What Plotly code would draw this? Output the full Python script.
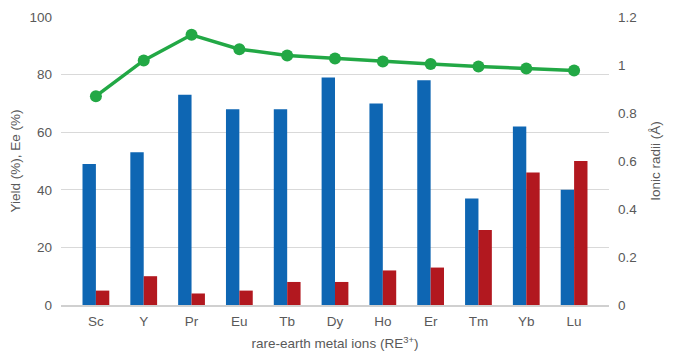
import plotly.graph_objects as go

categories = ["Sc", "Y", "Pr", "Eu", "Tb", "Dy", "Ho", "Er", "Tm", "Yb", "Lu"]
yield_vals = [49, 53, 73, 68, 68, 79, 70, 78, 37, 62, 40]
ee_vals = [5, 10, 4, 5, 8, 8, 12, 13, 26, 46, 50]
ionic_radii = [0.87, 1.019, 1.126, 1.066, 1.04, 1.027, 1.015, 1.004, 0.994, 0.985, 0.977]

font_family = "Liberation Sans, Arial, sans-serif"
tick_color = "#595959"

fig = go.Figure()
fig.add_trace(go.Bar(x=categories, y=yield_vals, name="Yield", marker_color="#0E66B3",
                     marker_line_width=0))
fig.add_trace(go.Bar(x=categories, y=ee_vals, name="Ee", marker_color="#B2181F",
                     marker_line_width=0))
fig.add_trace(go.Scatter(x=categories, y=ionic_radii, name="Ionic radii", yaxis="y2",
                         mode="lines+markers",
                         line=dict(color="#22A845", width=3.5),
                         marker=dict(color="#22A845", size=12)))

# page body has an 8px margin, so the figure is sized to fit the 673x359 window
fig.update_layout(
    width=665, height=351,
    margin=dict(l=53, r=64, t=9, b=54, autoexpand=False),
    paper_bgcolor="white", plot_bgcolor="white",
    barmode="group", bargap=0.44, bargroupgap=0,
    showlegend=False,
    font=dict(family=font_family, size=13.5, color=tick_color),
    xaxis=dict(
        title=dict(text="rare-earth metal ions (RE<sup>3+</sup>)", font=dict(size=13.5, color=tick_color), standoff=11),
        showline=True, linecolor="#D0D0D0", linewidth=1.5,
        ticks="", ticklabelstandoff=3,
        tickfont=dict(size=13.5, color=tick_color), automargin=False,
    ),
    yaxis=dict(
        title=dict(text="Yield (%), Ee (%)", font=dict(size=13.5, color=tick_color), standoff=14),
        range=[0, 100], dtick=20,
        showgrid=True, gridcolor="#D9D9D9", gridwidth=1,
        zeroline=False, ticks="", ticklabelstandoff=8,
        tickfont=dict(size=13.5, color=tick_color), automargin=False,
    ),
    yaxis2=dict(
        title=dict(text="Ionic radii (Å)", font=dict(size=13.5, color=tick_color), standoff=14),
        overlaying="y", side="right",
        range=[0, 1.2], dtick=0.2,
        showgrid=False, zeroline=False, ticks="", ticklabelstandoff=8,
        tickfont=dict(size=13.5, color=tick_color), automargin=False,
    ),
)

fig.write_html("out.html")
